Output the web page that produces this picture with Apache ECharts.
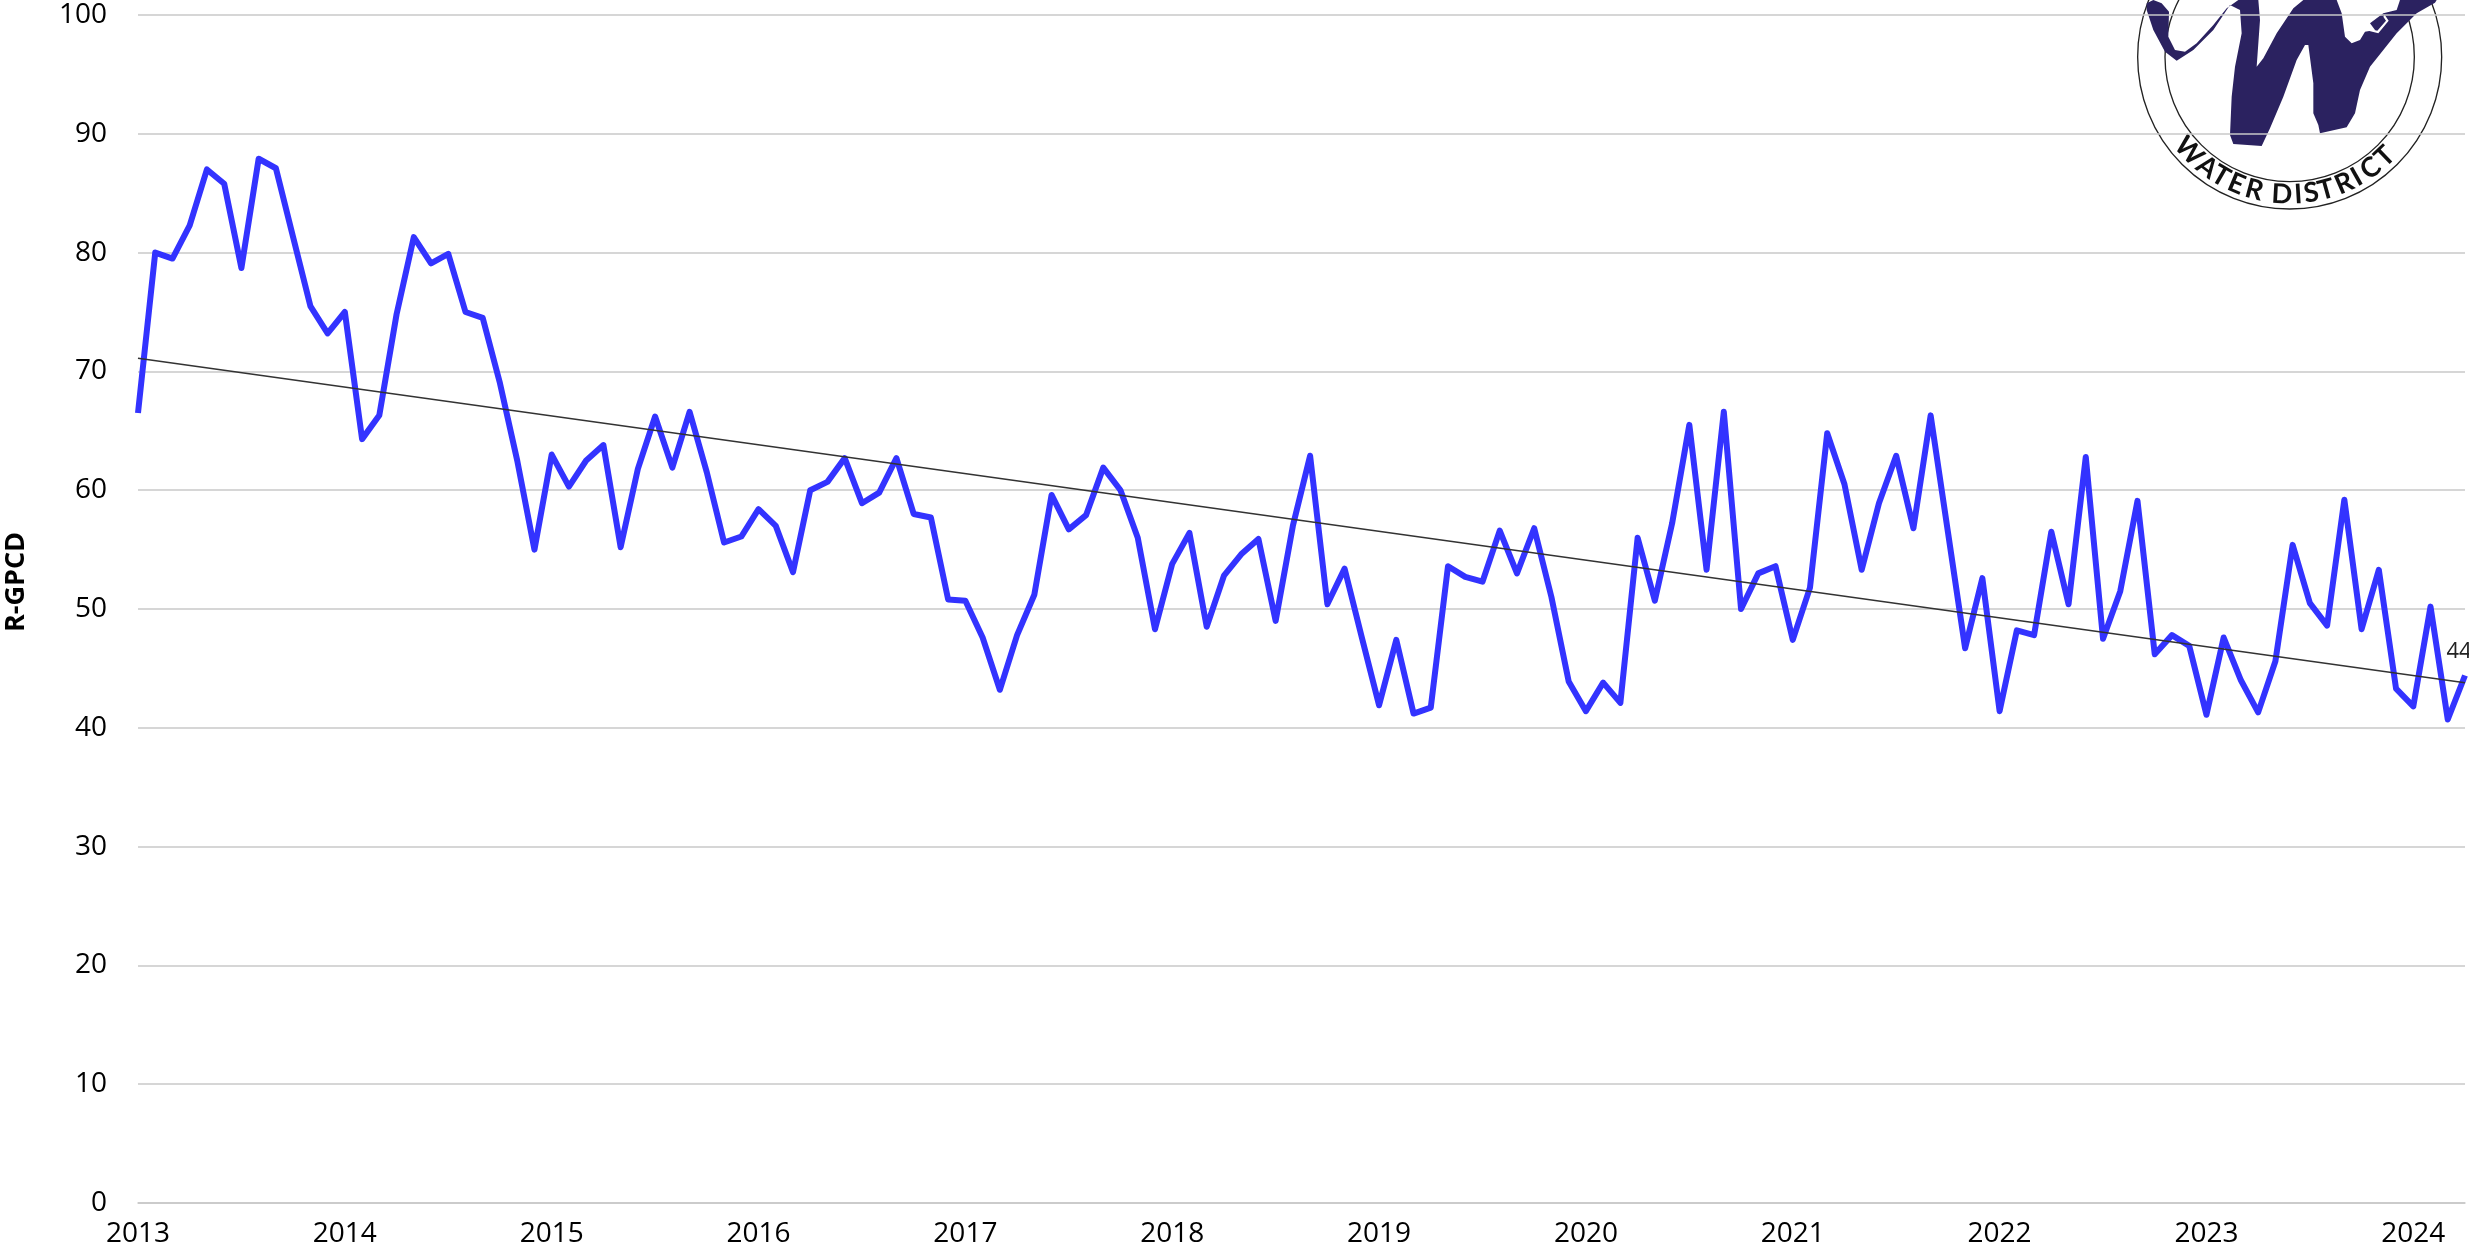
<!DOCTYPE html>
<html>
<head>
<meta charset="utf-8">
<title>R-GPCD</title>
<style>
html,body{margin:0;padding:0;background:#fff}
#chart{width:2469px;height:1250px}
</style>
<script src="https://cdn.jsdelivr.net/npm/echarts@6/dist/echarts.min.js"></script>
</head>
<body>
<div id="chart"></div>
<script>
var values2013 = [66.5,80,79.5,82.3,87,85.8,78.7,87.9,87.1,81.3,75.5,73.2];
var values2014 = [75,64.3,66.3,74.8,81.3,79.1,79.9,75,74.5,69,62.5,55];
var values2015 = [63,60.3,62.5,63.8,55.2,61.8,66.2,61.9,66.6,61.5,55.6,56.1];
var values2016 = [58.4,57,53.1,60,60.7,62.7,58.9,59.8,62.7,58,57.7,50.8];
var values2017 = [50.7,47.6,43.2,47.8,51.2,59.6,56.7,57.9,61.9,60,56,48.3];
var values2018 = [53.8,56.4,48.5,52.8,54.6,55.9,49,57,62.9,50.4,53.4,47.6];
var values2019 = [41.9,47.4,41.2,41.7,53.6,52.7,52.3,56.6,53,56.8,51,43.9];
var values2020 = [41.4,43.8,42.1,56,50.7,57.2,65.5,53.3,66.6,50,53,53.6];
var values2021 = [47.4,51.8,64.8,60.5,53.3,58.9,62.9,56.8,66.3,56.5,46.7,52.6];
var values2022 = [41.4,48.2,47.8,56.5,50.4,62.8,47.5,51.5,59.1,46.2,47.8,46.9];
var values2023 = [41.1,47.6,44,41.3,45.6,55.4,50.5,48.6,59.2,48.3,53.3,43.3];
var values2024 = [41.8,50.2,40.7,44.4];

var years = ['2013','2014','2015','2016','2017','2018','2019','2020','2021','2022','2023','2024'];
var yearValues = [values2013,values2014,values2015,values2016,values2017,values2018,values2019,values2020,values2021,values2022,values2023,values2024];
var trendStart = 71.1;
var trendEnd = 43.8;

var months = [];
var gpcd = [];
var trend = [];
for (var i = 0; i < years.length; i++) {
    for (var j = 0; j < yearValues[i].length; j++) {
        months.push(years[i] + '-' + (j + 1));
        gpcd.push(yearValues[i][j]);
        trend.push(null);
    }
}
trend[0] = trendStart;
trend[trend.length - 1] = trendEnd;

// logo outline, in pixels of the 3x crop it was traced from
var logoW = [[290,10],[310,0],[335,10],[357,35],[355,110],[375,150],[405,155],[440,130],[490,75],[530,25],[565,0],[625,0],[630,60],[620,200],[640,175],[680,100],[730,25],[760,0],[860,0],[875,40],[885,110],[905,130],[930,120],[945,95],[975,90],[960,70],[1000,40],[1040,30],[1050,0],[1160,0],[1155,8],[1100,40],[1040,100],[1000,150],[960,200],[930,270],[915,340],[890,382],[810,400],[805,375],[790,340],[790,250],[775,135],[765,135],[740,180],[700,290],[660,385],[635,438],[550,432],[540,405],[545,290],[555,200],[575,100],[570,30],[540,15],[490,90],[430,150],[380,182],[345,155],[310,90],[290,30]];
var logoHole = [[955,92],[985,100],[1016,62],[1004,44],[1000,50],[1008,62],[982,92],[958,86]];
var logoLetters = ['W','A','T','E','R','D','I','S','T','R','I','C','T'];
var logoAngles = [-47,-36.8,-30,-22.8,-14.9,-3.2,3.6,9,15.4,23.4,29.2,36,43.7];

var logoParts = [
    {type:'rect', shape:{x:237,y:0,width:945,height:680}, style:{fill:'#fff'}},
    {type:'circle', shape:{cx:719,cy:171,r:456}, style:{fill:'none',stroke:'#222',lineWidth:4}},
    {type:'circle', shape:{cx:719,cy:171,r:374}, style:{fill:'none',stroke:'#222',lineWidth:4}},
    {type:'polygon', shape:{points:logoW}, style:{fill:'#2b2260'}},
    {type:'polygon', shape:{points:logoHole}, style:{fill:'#fff'}}
];
for (var k = 0; k < logoLetters.length; k++) {
    var a = logoAngles[k] * Math.PI / 180;
    logoParts.push({
        type:'text',
        x:719 + 413 * Math.sin(a),
        y:171 + 413 * Math.cos(a),
        rotation:a,
        style:{text:logoLetters[k],font:'bold 82px Lato',fill:'#111',textAlign:'center',textVerticalAlign:'middle'}
    });
}

var chart = echarts.init(document.getElementById('chart'));
chart.setOption({
    animation:false,
    backgroundColor:'#fff',
    textStyle:{fontFamily:'Open Sans'},
    grid:{left:138,right:4,top:15,bottom:47},
    xAxis:{
        type:'category',
        data:months,
        boundaryGap:false,
        axisTick:{show:false},
        axisLine:{lineStyle:{color:'#c8c8c8',width:1.5}},
        axisLabel:{
            interval:11,
            margin:17,
            color:'#000',
            fontSize:28,
            fontFamily:'Open Sans',
            formatter:function(v){return v.split('-')[0];}
        },
        splitLine:{show:false}
    },
    yAxis:{
        type:'value',
        min:0,
        max:100,
        interval:10,
        axisTick:{show:false},
        axisLine:{show:false},
        axisLabel:{margin:31,color:'#000',fontSize:28,fontFamily:'Open Sans',padding:[3,0,0,0]},
        splitLine:{lineStyle:{color:'#c8c8c8',width:1.5}}
    },
    series:[
        {
            name:'R-GPCD',
            type:'line',
            data:gpcd,
            symbol:'none',
            lineStyle:{color:'#3333ff',width:6,join:'round'},
            endLabel:{
                show:true,
                color:'#222',
                fontSize:22,
                fontFamily:'Open Sans',
                align:'center',
                verticalAlign:'middle',
                distance:0,
                offset:[-6,-24],
                formatter:function(p){return Math.round(p.value);}
            }
        },
        {
            name:'Trend',
            type:'line',
            data:trend,
            connectNulls:true,
            symbol:'none',
            lineStyle:{color:'#333',width:1.5}
        }
    ],
    graphic:[
        {
            type:'text',
            x:16,
            y:582,
            rotation:Math.PI / 2,
            style:{text:'R-GPCD',font:'bold 27px "Open Sans"',fill:'#000',textAlign:'center',textVerticalAlign:'middle'}
        },
        {type:'group', x:2050, y:0, scaleX:1/3, scaleY:1/3, children:logoParts}
    ]
});
</script>
</body>
</html>
